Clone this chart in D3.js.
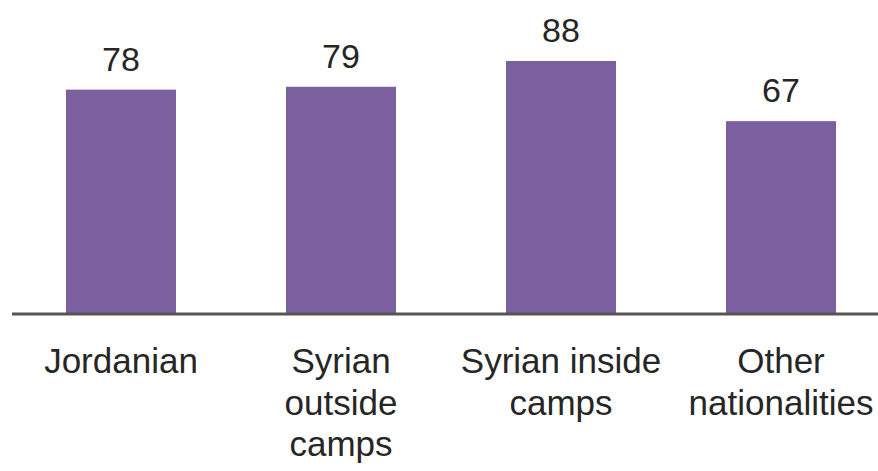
<!DOCTYPE html>
<html>
<head>
<meta charset="utf-8">
<script src="https://cdn.jsdelivr.net/npm/d3@7"></script>
<style>
  body { margin: 0; background: #fff; }
  text { font-family: "Liberation Sans", Arial, sans-serif; fill: #262626; }
</style>
</head>
<body>
<script>
// Chart data
var categories = ["Jordanian", "Syrian outside camps", "Syrian inside camps", "Other nationalities"];
var labelLines = [["Jordanian"], ["Syrian", "outside", "camps"], ["Syrian inside", "camps"], ["Other", "nationalities"]];
var values = [78, 79, 88, 67];

// SVG area
var svgWidth = 878;
var svgHeight = 471;

var svg = d3.select("body")
  .append("svg")
  .attr("width", svgWidth)
  .attr("height", svgHeight);

var baseY = 313;

// Band scale for the categories
var xBandScale = d3.scaleBand()
  .domain(categories)
  .range([11, 891])
  .paddingInner(0.5)
  .paddingOuter(0.25);

// Linear scale, 0 at the baseline
var yLinearScale = d3.scaleLinear()
  .domain([0, 88])
  .range([baseY, 61]);

// Bars
svg.selectAll(".bar")
  .data(values)
  .enter()
  .append("rect")
  .attr("class", "bar")
  .attr("x", (d, i) => xBandScale(categories[i]))
  .attr("y", d => yLinearScale(d))
  .attr("width", xBandScale.bandwidth())
  .attr("height", d => baseY - yLinearScale(d))
  .attr("fill", "#7c5f9f");

// Value labels
svg.selectAll(".value")
  .data(values)
  .enter()
  .append("text")
  .attr("class", "value")
  .attr("x", (d, i) => xBandScale(categories[i]) + xBandScale.bandwidth() / 2)
  .attr("y", d => yLinearScale(d) - 19)
  .attr("text-anchor", "middle")
  .style("font-size", "34px")
  .text(d => d);

// Baseline
svg.append("line")
  .attr("x1", 12)
  .attr("x2", svgWidth)
  .attr("y1", baseY + 1)
  .attr("y2", baseY + 1)
  .attr("stroke", "#555")
  .attr("stroke-width", 3);

// Category labels (wrapped)
var catText = svg.selectAll(".cat")
  .data(categories)
  .enter()
  .append("text")
  .attr("class", "cat")
  .attr("text-anchor", "middle")
  .attr("x", d => xBandScale(d) + xBandScale.bandwidth() / 2)
  .attr("y", 373)
  .style("font-size", "35px");

catText.each(function(d, i) {
  var t = d3.select(this);
  labelLines[i].forEach(function(line, j) {
    t.append("tspan")
      .attr("x", xBandScale(d) + xBandScale.bandwidth() / 2)
      .attr("dy", j === 0 ? 0 : 41.5)
      .text(line);
  });
});
</script>
</body>
</html>
